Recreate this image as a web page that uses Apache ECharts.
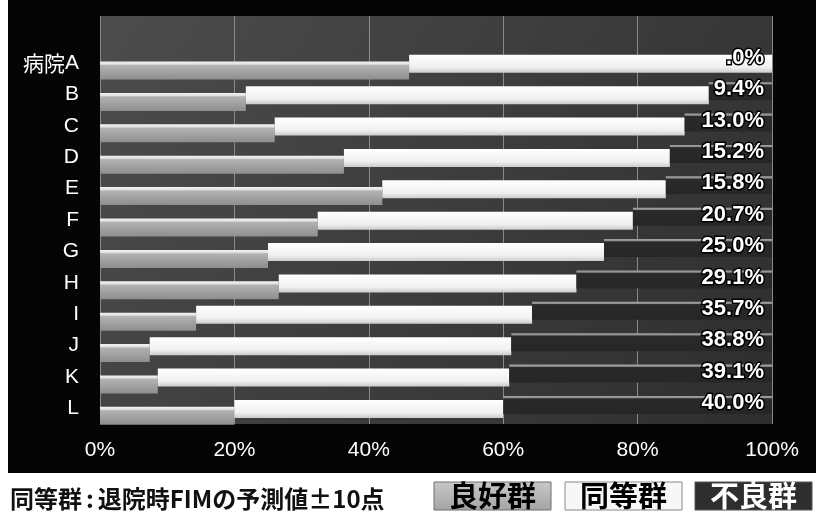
<!DOCTYPE html>
<html>
<head>
<meta charset="utf-8">
<script src="https://cdn.jsdelivr.net/npm/echarts@6/dist/echarts.min.js"></script>
<style>
  html, body { margin: 0; padding: 0; background: #fff; }
  #chart { width: 816px; height: 520px; }
</style>
</head>
<body>
<div id="chart"></div>
<script>
// Outcome groups per hospital (% of patients)
const hospitals = ['病院A', 'B', 'C', 'D', 'E', 'F', 'G', 'H', 'I', 'J', 'K', 'L'];
const groupNames = ['良好群', '同等群', '不良群'];
const goodPct = [46.0, 21.7, 26.0, 36.3, 42.0, 32.4, 25.0, 26.6, 14.3, 7.4, 8.6, 20.0];
const samePct = [54.0, 68.9, 61.0, 48.5, 42.2, 46.9, 50.0, 44.3, 50.0, 53.8, 52.3, 40.0];
const poorPct = [0.0, 9.4, 13.0, 15.2, 15.8, 20.7, 25.0, 29.1, 35.7, 38.8, 39.1, 40.0];
const xTicks = [0, 20, 40, 60, 80, 100];
const footnote = '同等群:退院時FIMの予測値±10点';

// one empty slot above the first hospital
const cats = [''].concat(hospitals);
const pad = arr => [null].concat(arr);

const chart = echarts.init(document.getElementById('chart'), null, { renderer: 'canvas' });

function vGrad(stops) {
  return new echarts.graphic.LinearGradient(0, 0, 0, 1,
    stops.map(s => ({ offset: s[0], color: s[1] })));
}

const fmtPct = v => {
  let s = Number(v).toFixed(1);
  if (s.charAt(0) === '0') s = s.slice(1);
  return s + '%';
};

const labelFont = "'Liberation Sans', 'Noto Sans CJK JP', sans-serif";
const cjkFont = "'Noto Sans CJK JP', 'Liberation Sans', sans-serif";

const legendBoxes = [
  { x: 434, w: 117, fill: vGrad([[0, '#c8c8c8'], [1, '#a4a4a4']]), stroke: '#6e6e6e', text: '#000' },
  { x: 565, w: 117, fill: '#f7f7f7', stroke: '#8a8a8a', text: '#000' },
  { x: 695, w: 117, fill: '#2e2e2e', stroke: '#555', text: '#fff' }
];

// footnote: the colon gets a little room on each side
const noteParts = footnote.split(':');
const noteRich = '{t|' + noteParts[0] + '}{k|:}{t|' + noteParts.slice(1).join(':') + '}';

const graphics = [
  { type: 'rect', z: -10, silent: true, shape: { x: 8, y: 0, width: 808, height: 473 }, style: { fill: '#050505' } },
  {
    type: 'text', x: 10, y: 499, silent: true,
    style: {
      text: noteRich, x: 0, y: 0, textVerticalAlign: 'middle', textAlign: 'left',
      rich: {
        t: { fill: '#111', font: "bold 24px " + cjkFont },
        k: { fill: '#111', font: "bold 24px " + cjkFont, padding: [0, 4, 0, 4] }
      }
    }
  }
];
legendBoxes.forEach((b, i) => {
  graphics.push({ type: 'rect', silent: true, shape: { x: b.x, y: 482, width: b.w, height: 28 }, style: { fill: b.fill, stroke: b.stroke, lineWidth: 1 } });
  graphics.push({
    type: 'text', silent: true, x: b.x + b.w / 2, y: 496,
    style: { text: groupNames[i], x: 0, y: 0, fill: b.text, font: "bold 29px " + cjkFont, textAlign: 'center', textVerticalAlign: 'middle' }
  });
});

// each segment of a row is drawn a few pixels higher than the one before it
const barGrid = (dy) => ({ left: 100, right: 44, top: 16 + dy, bottom: 96 - dy });
const hiddenX = (g) => ({ gridIndex: g, type: 'value', min: 0, max: 100, show: false, splitLine: { show: false } });
const hiddenY = (g) => ({ gridIndex: g, type: 'category', data: cats, inverse: true, show: false });
const spacer = (g, stack, data) => ({
  type: 'bar', stack: stack, xAxisIndex: g, yAxisIndex: g, barWidth: 18, silent: true,
  data: pad(data), itemStyle: { color: 'rgba(0,0,0,0)' }
});

const option = {
  backgroundColor: '#ffffff',
  animation: false,
  graphic: graphics,
  grid: [
    // plot frame, gridlines and axis labels
    { left: 100, right: 44, top: 16, bottom: 96, show: true, borderWidth: 0,
      backgroundColor: new echarts.graphic.LinearGradient(0, 0, 1, 1, [
        { offset: 0, color: '#4c4c4c' }, { offset: 1, color: '#2e2e2e' }]) },
    barGrid(7.5),   // 良好群
    barGrid(0.7),   // 同等群
    barGrid(-3.3)   // 不良群
  ],
  xAxis: [
    { gridIndex: 0, type: 'value', min: 0, max: 100, interval: 20,
      axisLine: { show: false }, axisTick: { show: false },
      splitLine: { show: true, lineStyle: { color: '#8a8a8a', width: 1 } },
      axisLabel: { color: '#fff', fontSize: 21, fontFamily: labelFont, margin: 16,
        formatter: v => (xTicks.indexOf(v) >= 0 ? v + '%' : '') } },
    hiddenX(1), hiddenX(2), hiddenX(3)
  ],
  yAxis: [
    { gridIndex: 0, type: 'category', data: cats, inverse: true,
      axisLine: { show: false }, axisTick: { show: false }, splitLine: { show: false },
      axisLabel: { color: '#fff', fontSize: 21, fontFamily: labelFont, margin: 21,
        formatter: v => v.replace(/^(病院)/, '{c|$1}'),
        rich: { c: { color: '#fff', fontSize: 21, fontFamily: cjkFont } } } },
    hiddenY(1), hiddenY(2), hiddenY(3)
  ],
  series: [
    { name: groupNames[0], type: 'bar', stack: 'g', xAxisIndex: 1, yAxisIndex: 1, barWidth: 18,
      data: pad(goodPct),
      itemStyle: { color: vGrad([[0, '#f4f4f4'], [0.14, '#e2e2e2'], [0.22, '#b2b2b2'], [1, '#8e8e8e']]) } },

    spacer(2, 's', goodPct),
    { name: groupNames[1], type: 'bar', stack: 's', xAxisIndex: 2, yAxisIndex: 2, barWidth: 18,
      data: pad(samePct),
      itemStyle: { color: vGrad([[0, '#ffffff'], [0.7, '#f0f0f0'], [1, '#cbcbcb']]) } },

    spacer(3, 'p', goodPct),
    spacer(3, 'p', samePct),
    { name: groupNames[2], type: 'bar', stack: 'p', xAxisIndex: 3, yAxisIndex: 3, barWidth: 18,
      data: pad(poorPct),
      itemStyle: { color: vGrad([[0, '#a4a4a4'], [0.1, '#8c8c8c'], [0.15, '#2a2a2a'], [1, '#262626']]) },
      label: { show: true, position: 'insideRight', distance: 8, offset: [0, -2],
        formatter: p => fmtPct(p.value),
        color: '#ffffff', fontSize: 22, fontWeight: 'bold', fontFamily: labelFont,
        textBorderColor: '#000', textBorderWidth: 3 } }
  ]
};
chart.setOption(option);
</script>
</body>
</html>
